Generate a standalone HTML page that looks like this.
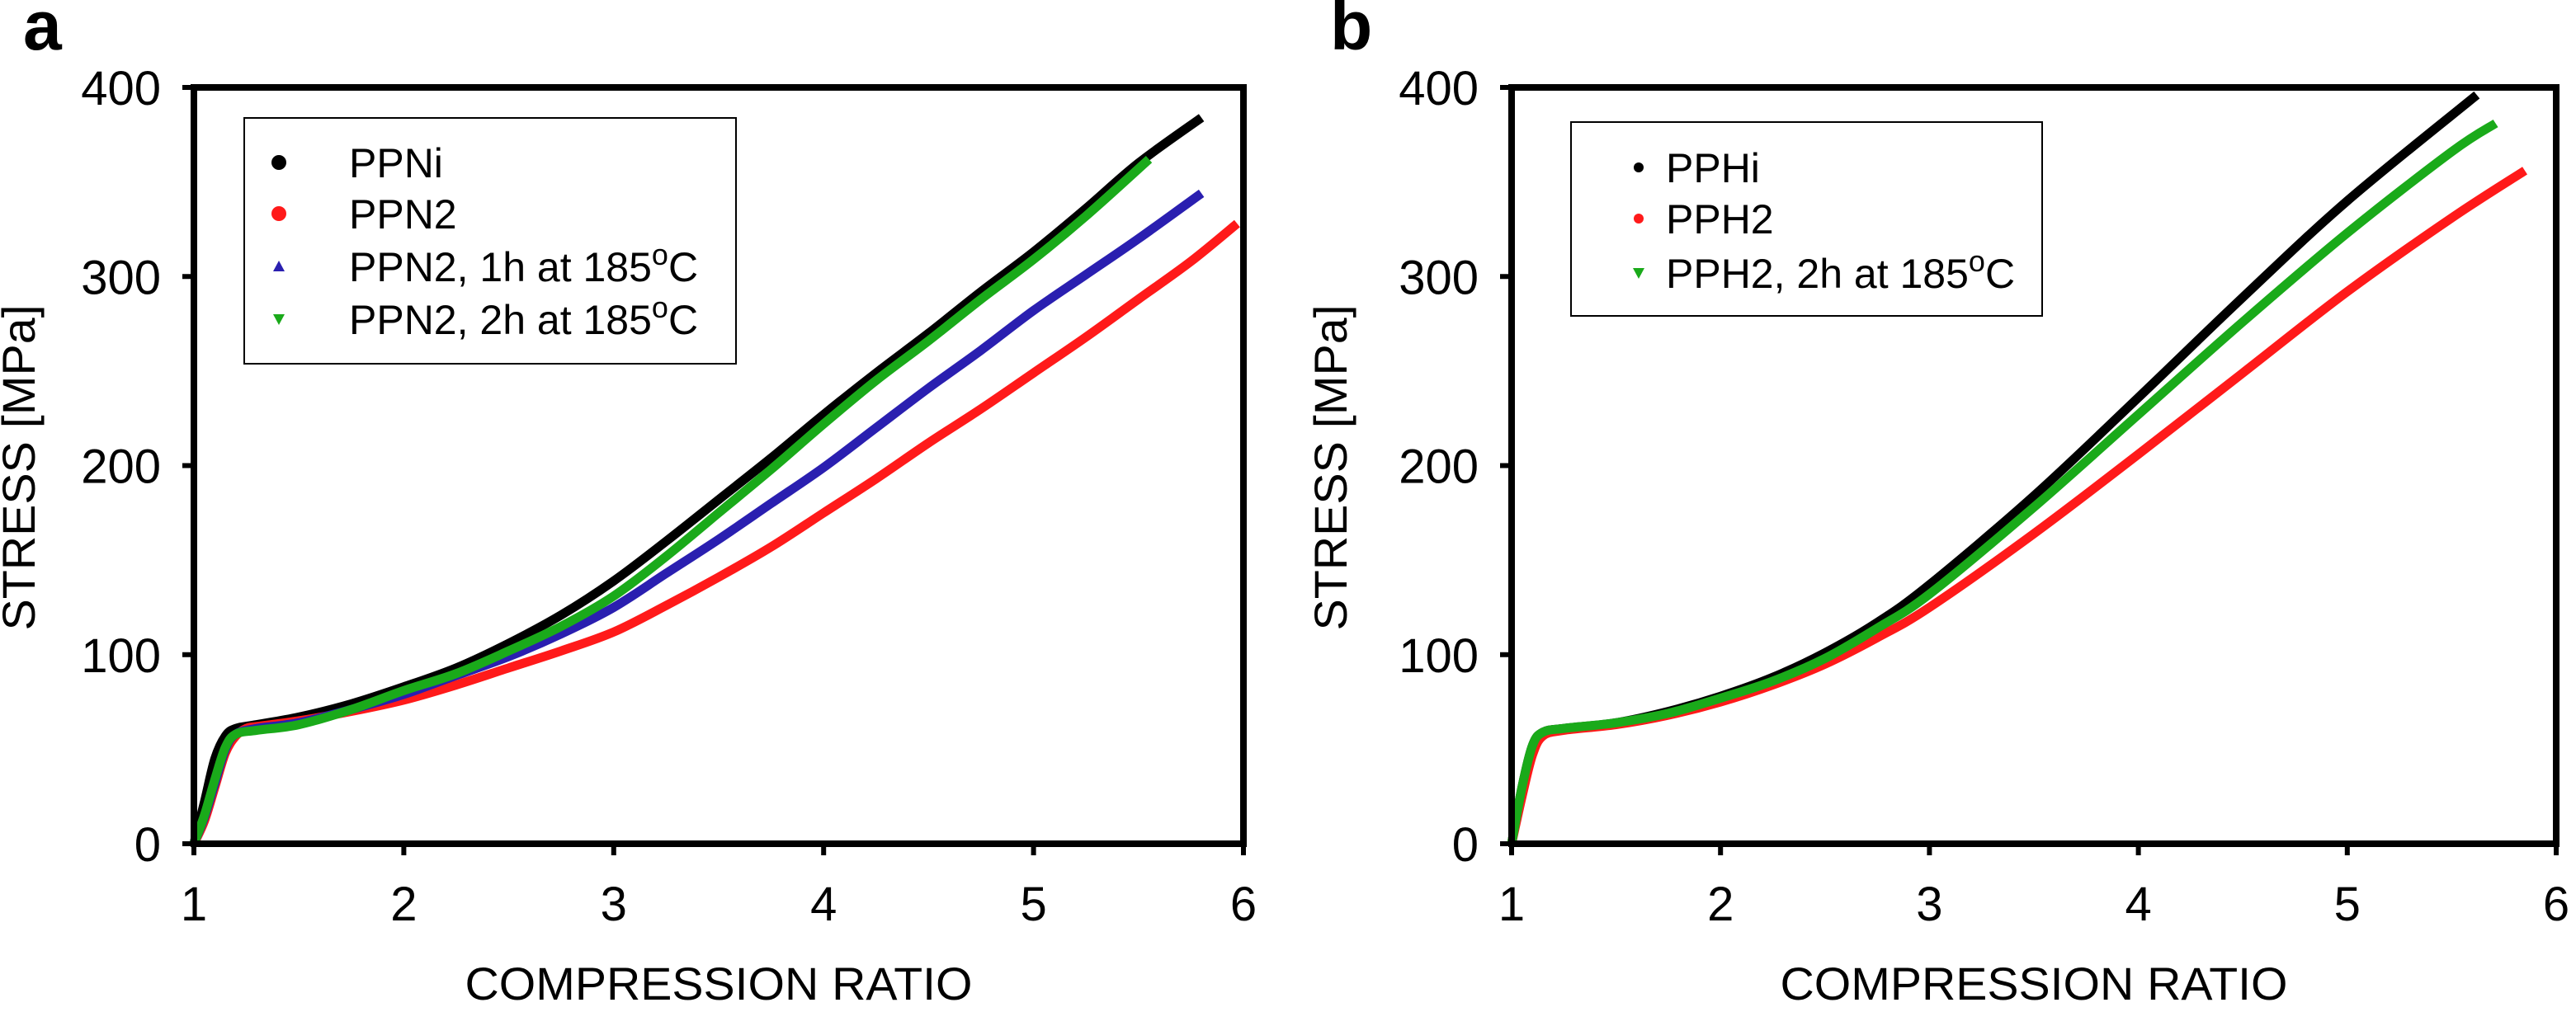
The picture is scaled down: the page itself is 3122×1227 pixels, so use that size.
<!DOCTYPE html>
<html><head><meta charset="utf-8">
<style>
html,body{margin:0;padding:0;background:#fff;}
svg{display:block;font-family:"Liberation Sans",Arial,sans-serif;}
</style></head>
<body>
<svg id="fig" width="3122" height="1227" viewBox="0 0 3122 1227" xmlns="http://www.w3.org/2000/svg"></svg>
<script>
// ---- data: panel a ----
const xTicks = [1,2,3,4,5,6];
const yTicks = [0,100,200,300,400];
const aPPNiX = [1.0,1.05,1.1,1.15,1.2,1.3,1.5,1.75,2.0,2.25,2.5,2.75,3.0,3.25,3.5,3.75,4.0,4.25,4.5,4.75,5.0,5.25,5.5,5.8];
const aPPNiY = [0,22,45,57,61,63,67,74,83,93,106,121,139,160,182,204,227,249,270,292,313,336,360,384];
const aPPN2X = [1.0,1.05,1.1,1.15,1.2,1.25,1.3,1.5,1.75,2.0,2.25,2.5,2.75,3.0,3.25,3.5,3.75,4.0,4.25,4.5,4.75,5.0,5.25,5.5,5.75,5.97];
const aPPN2Y = [0,12,30,48,57,61,62,65,70,76,84,93,102,112,126,141,157,175,193,212,230,249,268,288,308,328];
const aPPN2h1X = [1.0,1.05,1.1,1.15,1.2,1.3,1.5,1.75,2.0,2.25,2.5,2.75,3.0,3.25,3.5,3.75,4.0,4.25,4.5,4.75,5.0,5.25,5.5,5.8];
const aPPN2h1Y = [0,14,32,50,58,61,64,71,79,89,99,111,125,143,161,180,199,220,241,261,282,301,320,344];
const aPPN2h2X = [1.0,1.05,1.1,1.15,1.2,1.3,1.5,1.75,2.0,2.25,2.5,2.75,3.0,3.25,3.5,3.75,4.0,4.25,4.5,4.75,5.0,5.25,5.55];
const aPPN2h2Y = [0,15,34,51,58,60,63,71,81,90,102,115,131,152,175,198,222,245,266,288,309,332,362];
// ---- data: panel b ----
const bPPHiX = [1.0,1.05,1.1,1.15,1.25,1.5,1.75,2.0,2.25,2.5,2.75,3.0,3.5,4.0,4.5,5.0,5.62];
const bPPHiY = [0,30,52,59,61,64,70,78,88,101,117,137,184,236,289,340,396];
const bPPH2X = [1.0,1.05,1.1,1.15,1.25,1.5,1.75,2.0,2.25,2.5,2.75,3.0,3.5,4.0,4.5,5.0,5.5,5.85];
const bPPH2Y = [0,25,47,57,60,63,68,75,84,95,109,125,164,206,249,292,331,356];
const bPPH2h2X = [1.0,1.05,1.1,1.15,1.25,1.5,1.75,2.0,2.25,2.5,2.75,3.0,3.5,4.0,4.5,5.0,5.5,5.71];
const bPPH2h2Y = [0,30,52,59,61,64,69,77,86,98,114,132,178,227,276,323,366,381];

const NS = "http://www.w3.org/2000/svg";
const svg = document.getElementById('fig');
function mk(tag, attrs, parent){
  const e = document.createElementNS(NS, tag);
  for (const k in attrs) e.setAttribute(k, attrs[k]);
  (parent||svg).appendChild(e);
  return e;
}
function smoothPath(px, py){
  let d = `M${px[0]},${py[0]}`;
  for (let i=0;i<px.length-1;i++){
    const x0=px[Math.max(i-1,0)], y0=py[Math.max(i-1,0)];
    const x1=px[i], y1=py[i], x2=px[i+1], y2=py[i+1];
    const x3=px[Math.min(i+2,px.length-1)], y3=py[Math.min(i+2,px.length-1)];
    d += ` C${x1+(x2-x0)/6},${y1+(y2-y0)/6} ${x2-(x3-x1)/6},${y2-(y3-y1)/6} ${x2},${y2}`;
  }
  return d;
}

function panel(opt){
  const g = mk('g', {});
  
  
  const L=opt.L, R=opt.R, T=106, B=1023;
  const sx = v => L + (v-1)/(6-1)*(R-L);
  const sy = v => B - v/400*(B-T);
  opt.series.forEach(s=>{
    const p = mk('path', {d: smoothPath(s.x.map(sx), s.y.map(sy)), fill:'none', stroke:s.color, 'stroke-width':11, 'stroke-linejoin':'round'}, g);
    
    
  });
  const fr = mk('rect', {x:L, y:T, width:R-L, height:B-T, fill:'none', stroke:'#000', 'stroke-width':8}, g);
  
  
  yTicks.forEach(v=>{
    const y = sy(v);
    const t = mk('line', {x1:L-14, x2:L, y1:y, y2:y, stroke:'#000', 'stroke-width':6}, g);
    
    
    const lb = mk('text', {x:L-40, y:y+21, 'font-size':58, 'text-anchor':'end', fill:'#000'}, g);
    lb.textContent = v;
    
    
  });
  xTicks.forEach(v=>{
    const x = sx(v);
    const t = mk('line', {x1:x, x2:x, y1:B, y2:B+14, stroke:'#000', 'stroke-width':6}, g);
    
    
    const lb = mk('text', {x:x, y:1116, 'font-size':58, 'text-anchor':'middle', fill:'#000'}, g);
    lb.textContent = v;
    
    
  });
  const xt = mk('text', {x:(L+R)/2, y:1212, 'font-size':56, 'text-anchor':'middle', fill:'#000', textLength:615, lengthAdjust:'spacingAndGlyphs'}, g);
  xt.textContent = 'COMPRESSION RATIO';
  
  
  const yt = mk('text', {x:0, y:0, 'font-size':56, 'text-anchor':'middle', fill:'#000', transform:`translate(${opt.ytx},567) rotate(-90)`, textLength:395, lengthAdjust:'spacingAndGlyphs'}, g);
  yt.textContent = 'STRESS [MPa]';
  
  
  const pl = mk('text', {x:opt.plx, y:60, 'font-size':84, 'font-weight':'bold', fill:'#000'}, g);
  pl.textContent = opt.letter;
  
  
  const lg = opt.legend;
  const box = mk('rect', {x:lg.x, y:lg.y, width:lg.w, height:lg.h, fill:'#fff', stroke:'#000', 'stroke-width':2}, g);
  
  
  opt.series.forEach((s,i)=>{
    const cy = lg.rows[i];
    let m;
    if (s.marker==='circle') m = mk('circle', {cx:lg.mx, cy:cy, r:lg.r, fill:s.color}, g);
    else if (s.marker==='up') m = mk('polygon', {points:`${lg.mx-7},${cy+6} ${lg.mx+7},${cy+6} ${lg.mx},${cy-7}`, fill:s.color}, g);
    else m = mk('polygon', {points:`${lg.mx-7},${cy-6} ${lg.mx+7},${cy-6} ${lg.mx},${cy+7}`, fill:s.color}, g);
    
    
    const t = mk('text', {x:lg.tx, y:cy+18, 'font-size':50, fill:'#000'}, g);
    t.innerHTML = s.label;
    
    
  });
}

panel({name:'panel-a', letter:'a', L:235, R:1507, ytx:42, plx:28,
  legend:{x:296, y:143, w:596, h:298, mx:338, r:9, tx:423, rows:[197,259,323,387]},
  series:[
    {key:'series-ppni', x:aPPNiX, y:aPPNiY, color:'#000000', marker:'circle', label:'PPNi'},
    {key:'series-ppn2', x:aPPN2X, y:aPPN2Y, color:'#ff1a1a', marker:'circle', label:'PPN2'},
    {key:'series-ppn2-1h', x:aPPN2h1X, y:aPPN2h1Y, color:'#2a1fb0', marker:'up', label:'PPN2, 1h at 185<tspan dy="-20" font-size="36">o</tspan><tspan dy="20">C</tspan>'},
    {key:'series-ppn2-2h', x:aPPN2h2X, y:aPPN2h2Y, color:'#1aaa1a', marker:'down', label:'PPN2, 2h at 185<tspan dy="-20" font-size="36">o</tspan><tspan dy="20">C</tspan>'}
  ]});
panel({name:'panel-b', letter:'b', L:1832, R:3098, ytx:1632, plx:1612,
  legend:{x:1904, y:148, w:571, h:235, mx:1986, r:6, tx:2019, rows:[203,265,331]},
  series:[
    {key:'series-pphi', x:bPPHiX, y:bPPHiY, color:'#000000', marker:'circle', label:'PPHi'},
    {key:'series-pph2', x:bPPH2X, y:bPPH2Y, color:'#ff1a1a', marker:'circle', label:'PPH2'},
    {key:'series-pph2-2h', x:bPPH2h2X, y:bPPH2h2Y, color:'#1aaa1a', marker:'down', label:'PPH2, 2h at 185<tspan dy="-20" font-size="36">o</tspan><tspan dy="20">C</tspan>'}
  ]});
</script>
</body></html>
